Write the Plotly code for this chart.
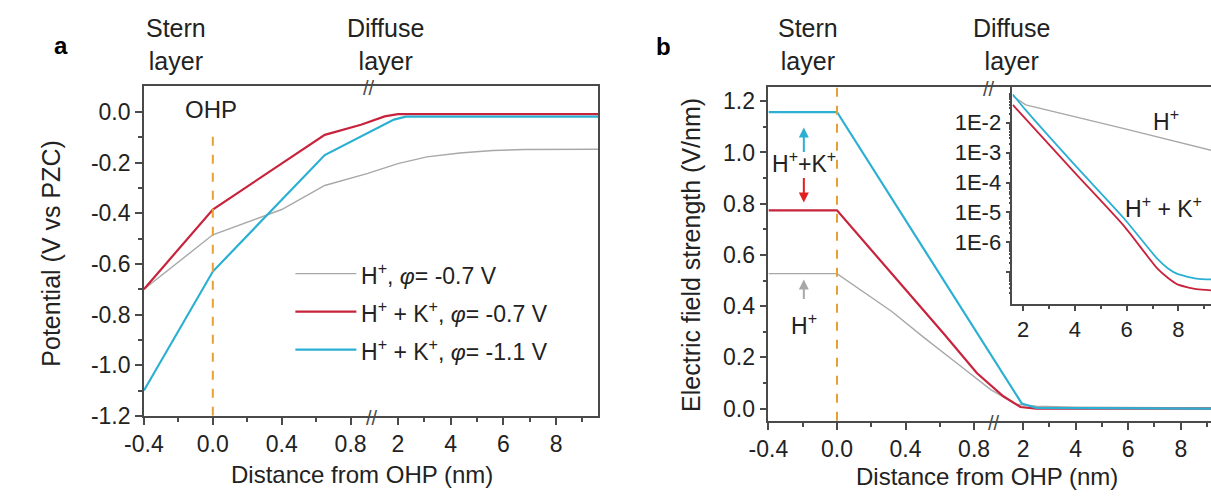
import plotly.graph_objects as go

# ---------------- data ----------------
# panel a : potential (V vs PZC) vs distance from OHP (nm)
a_gray_x = [-0.4, 0.0, 0.4, 0.65, 0.9, 2.0, 3.1, 4.35, 5.6, 6.8, 9.6]
a_gray_y = [-0.70, -0.485, -0.385, -0.29, -0.242, -0.204, -0.177, -0.162, -0.152, -0.148, -0.147]
a_red_x = [-0.4, 0.0, 0.65, 0.86, 1.5, 2.0, 9.6]
a_red_y = [-0.70, -0.385, -0.09, -0.05, -0.017, -0.008, -0.008]
a_cyan_x = [-0.4, 0.0, 0.65, 1.85, 2.3, 9.6]
a_cyan_y = [-1.10, -0.63, -0.17, -0.03, -0.018, -0.018]

# panel b : electric field strength (V/nm)
b_gray_x = [-0.4, 0.0, 0.32, 0.51, 0.70, 0.897, 1.74, 2.5, 4.0, 6.0, 9.2]
b_gray_y = [0.527, 0.527, 0.379, 0.276, 0.177, 0.074, 0.017, 0.009, 0.005, 0.003, 0.002]
b_red_x = [-0.4, 0.0, 0.626, 0.816, 1.25, 1.9, 2.5, 9.2]
b_red_y = [0.774, 0.774, 0.29, 0.139, 0.048, 0.006, 0.0, 0.0]
b_cyan_x = [-0.4, 0.0, 1.95, 2.5, 9.2]
b_cyan_y = [1.158, 1.158, 0.02, 0.003, 0.0]

# inset (log scale)
i_gray_x = [1.6, 2.1, 5.9, 9.3]
i_gray_y = [7.6e-2, 3.9e-2, 6.3e-3, 1.17e-3]
i_cyan_x = [1.6, 2.1, 4.0, 5.9, 7.2, 7.6, 7.96, 8.7, 9.3]
i_cyan_y = [8.7e-2, 2.6e-2, 3.8e-4, 6.3e-6, 2.75e-7, 1.35e-7, 8.9e-8, 6.2e-8, 5.8e-8]
i_red_x = [1.6, 4.0, 5.9, 7.2, 7.6, 7.96, 8.7, 9.3]
i_red_y = [3.9e-2, 2.1e-4, 3.5e-6, 1.3e-7, 6.5e-8, 4.0e-8, 2.75e-8, 2.5e-8]

x_tick_vals = [-0.4, 0.0, 0.4, 0.8, 2, 4, 6, 8]
x_tick_text = ["-0.4", "0.0", "0.4", "0.8", "2", "4", "6", "8"]
x_minor_vals = [-0.2, 0.2, 0.6, 3, 5, 7, 9]
a_y_ticks = [0.0, -0.2, -0.4, -0.6, -0.8, -1.0, -1.2]
b_y_ticks = [0.0, 0.2, 0.4, 0.6, 0.8, 1.0, 1.2]
i_y_ticks = [1e-2, 1e-3, 1e-4, 1e-5, 1e-6, 1e-7]
i_y_text = ["1E-2", "1E-3", "1E-4", "1E-5", "1E-6", ""]
i_x_ticks = [2, 4, 6, 8]

legend_labels = ["H<sup>+</sup>, <i>φ</i>= -0.7 V",
                 "H<sup>+</sup> + K<sup>+</sup>, <i>φ</i>= -0.7 V",
                 "H<sup>+</sup> + K<sup>+</sup>, <i>φ</i>= -1.1 V"]

GRAY = "#A8A8A8"
RED = "#C8233C"
CYAN = "#2BB0D3"
ORANGE = "#E6A033"
AX = "#4A4A4A"
TXT = "#222222"
FONT = "Liberation Sans"

W, H = 1211, 498

# broken-axis transforms (first segment linear, second compressed)
XB1A, XB2A, KA = 0.926, 1.03, 0.1531
XB1B, XB2B, KB = 0.914, 0.88, 0.1534


def ta(x):
    return x if x <= XB1A else XB1A + (x - XB2A) * KA


def tb(x):
    return x if x <= XB1B else XB1B + (x - XB2B) * KB


def px(x):
    return x / W


def py(y):
    return 1 - y / H


fig = go.Figure()

# panel a
fig.add_trace(go.Scatter(x=[ta(v) for v in a_gray_x], y=a_gray_y, mode="lines",
                         line=dict(color=GRAY, width=1.4), xaxis="x", yaxis="y", showlegend=False))
fig.add_trace(go.Scatter(x=[ta(v) for v in a_red_x], y=a_red_y, mode="lines",
                         line=dict(color=RED, width=2.2), xaxis="x", yaxis="y", showlegend=False))
fig.add_trace(go.Scatter(x=[ta(v) for v in a_cyan_x], y=a_cyan_y, mode="lines",
                         line=dict(color=CYAN, width=2.2), xaxis="x", yaxis="y", showlegend=False))
# panel b
fig.add_trace(go.Scatter(x=[tb(v) for v in b_gray_x], y=b_gray_y, mode="lines",
                         line=dict(color=GRAY, width=1.4), xaxis="x2", yaxis="y2", showlegend=False))
fig.add_trace(go.Scatter(x=[tb(v) for v in b_red_x], y=b_red_y, mode="lines",
                         line=dict(color=RED, width=2.2), xaxis="x2", yaxis="y2", showlegend=False))
fig.add_trace(go.Scatter(x=[tb(v) for v in b_cyan_x], y=b_cyan_y, mode="lines",
                         line=dict(color=CYAN, width=2.2), xaxis="x2", yaxis="y2", showlegend=False))
# inset
fig.add_trace(go.Scatter(x=i_gray_x, y=i_gray_y, mode="lines",
                         line=dict(color=GRAY, width=1.4), xaxis="x3", yaxis="y3", showlegend=False))
fig.add_trace(go.Scatter(x=i_red_x, y=i_red_y, mode="lines", line_shape="spline",
                         line=dict(color=RED, width=1.8, smoothing=0.6), xaxis="x3", yaxis="y3", showlegend=False))
fig.add_trace(go.Scatter(x=i_cyan_x, y=i_cyan_y, mode="lines", line_shape="spline",
                         line=dict(color=CYAN, width=1.8, smoothing=0.6), xaxis="x3", yaxis="y3", showlegend=False))

axis_common = dict(showline=True, linecolor=AX, linewidth=1.6, showgrid=False, zeroline=False,
                   ticks="outside", ticklen=7, tickwidth=1.5, tickcolor=AX,
                   tickfont=dict(family=FONT, size=23, color=TXT))
inset_common = {**axis_common, "tickfont": dict(family=FONT, size=22, color=TXT), "ticklen": 5}

fig.update_layout(
    width=W, height=H,
    margin=dict(l=0, r=0, t=0, b=0),
    paper_bgcolor="white", plot_bgcolor="white",
    font=dict(family=FONT, color=TXT),
    xaxis=dict(domain=[px(126), px(588)], range=[ta(-0.4), ta(9.6)], anchor="y", mirror=True,
               tickmode="array", tickvals=[ta(v) for v in x_tick_vals], ticktext=x_tick_text,
               minor=dict(tickmode="array", tickvals=[ta(v) for v in x_minor_vals], ticks="outside",
                          ticklen=4, tickcolor=AX), **axis_common),
    yaxis=dict(domain=[py(427), py(88)], range=[-1.2, 0.104], anchor="x", mirror=True,
               tickmode="array", tickvals=a_y_ticks, ticktext=["%.1f" % v for v in a_y_ticks],
               minor=dict(tickmode="array", tickvals=[-0.1, -0.3, -0.5, -0.7, -0.9, -1.1],
                          ticks="outside", ticklen=4, tickcolor=AX), **axis_common),
    xaxis2=dict(domain=[px(761), 1.0], range=[tb(-0.4), tb(9.15)], anchor="y2", mirror=True,
                tickmode="array", tickvals=[tb(v) for v in x_tick_vals], ticktext=x_tick_text,
                minor=dict(tickmode="array", tickvals=[tb(v) for v in x_minor_vals], ticks="outside",
                           ticklen=4, tickcolor=AX), **axis_common),
    yaxis2=dict(domain=[py(432), py(89)], range=[-0.0475, 1.257], anchor="x2", mirror=False,
                tickmode="array", tickvals=b_y_ticks, ticktext=["%.1f" % v for v in b_y_ticks],
                minor=dict(tickmode="array", tickvals=[0.1, 0.3, 0.5, 0.7, 0.9, 1.1],
                           ticks="outside", ticklen=4, tickcolor=AX), **axis_common),
    xaxis3=dict(domain=[px(1009), 1.0], range=[1.58, 9.26], anchor="y3", mirror=True,
                tickmode="array", tickvals=i_x_ticks,
                minor=dict(tickmode="array", tickvals=[3, 5, 7, 9], ticks="outside", ticklen=3, tickcolor=AX),
                **inset_common),
    yaxis3=dict(domain=[py(312), py(89)], type="log", range=[-8.05, -0.8], anchor="x3", mirror=False,
                tickmode="array", tickvals=i_y_ticks, ticktext=i_y_text,
                minor=dict(tickmode="array",
                           tickvals=[k * 10.0 ** d for d in range(-8, -1) for k in range(2, 10)],
                           ticks="outside", ticklen=2, tickcolor=AX),
                **inset_common),
)

shapes = []
# OHP dashed lines
shapes.append(dict(type="line", xref="x", yref="y", x0=ta(0), x1=ta(0), y0=-1.2, y1=-0.065,
                   line=dict(color=ORANGE, width=2, dash="dash")))
shapes.append(dict(type="line", xref="x2", yref="y2 domain", x0=tb(0), x1=tb(0), y0=0, y1=1,
                   line=dict(color=ORANGE, width=2, dash="dash")))
# manual legend lines (panel a)
leg_colors = [GRAY, RED, CYAN]
leg_widths = [1.4, 2.2, 2.2]
leg_rows = [281, 320, 359]
for c, w, r in zip(leg_colors, leg_widths, leg_rows):
    shapes.append(dict(type="line", xref="paper", yref="paper", x0=px(280), x1=px(342),
                       y0=py(r), y1=py(r), line=dict(color=c, width=w)))
fig.update_layout(shapes=shapes)

ann = []


def text(x, y, s, size=24, color=TXT, xanchor="center", angle=0, bold=False):
    ann.append(dict(x=px(x), y=py(y), xref="paper", yref="paper", text=("<b>%s</b>" % s) if bold else s,
                    showarrow=False, xanchor=xanchor, yanchor="middle", textangle=angle,
                    font=dict(family=FONT, size=size, color=color)))


for lbl, r in zip(legend_labels, leg_rows):
    text(345, r, lbl, size=23, xanchor="left")

text(42, 47, "a", size=24, bold=True, color="#000")
text(654, 48, "b", size=24, bold=True, color="#000")
text(159, 46, "Stern<br>layer", size=25)
text(372, 46, "Diffuse<br>layer", size=25)
text(801, 46, "Stern<br>layer", size=25)
text(1008, 46, "Diffuse<br>layer", size=25)
text(194, 112, "OHP", size=24)
text(348, 487, "Distance from OHP (nm)", size=24)
text(983, 489, "Distance from OHP (nm)", size=24)
text(32, 260, "Potential (V vs PZC)", size=25, angle=-90)
text(682, 262, "Electric field strength (V/nm)", size=25, angle=-90)
text(797, 166, "H<sup>+</sup>+K<sup>+</sup>", size=23)
text(797, 333, "H<sup>+</sup>", size=23)
text(1165, 123, "H<sup>+</sup>", size=23)
text(1163, 213, "H<sup>+</sup> + K<sup>+</sup>", size=23)
# axis-break marks
for bx, by in [(355, 90), (358, 429), (985, 91), (990, 434)]:
    text(bx, by, "//", size=20, color=AX)

# arrows (panel b)
for yh, dy, c in [(131, 26, CYAN), (208, -26, "#E02020"), (287, 21, GRAY)]:
    ann.append(dict(x=px(797), y=py(yh), xref="paper", yref="paper", ax=0, ay=dy,
                    showarrow=True, arrowhead=2, arrowsize=1, arrowwidth=2, arrowcolor=c, text=""))

fig.update_layout(annotations=ann)
fig.write_html("out.html")
